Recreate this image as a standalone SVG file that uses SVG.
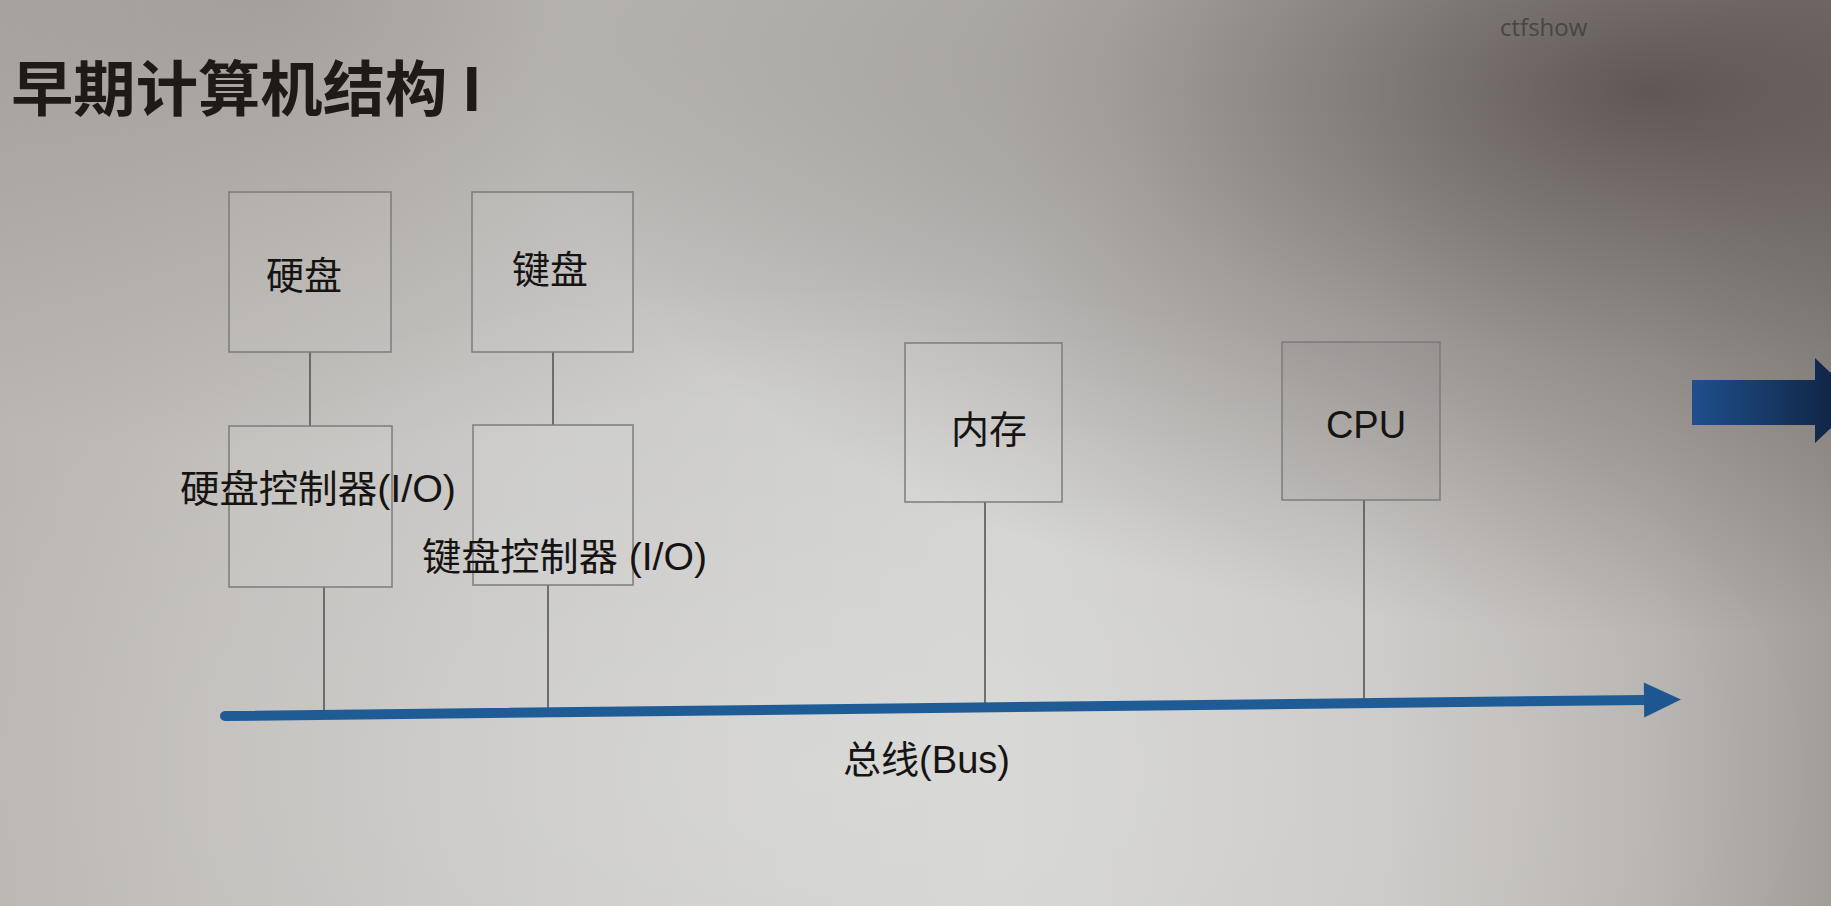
<svg xmlns="http://www.w3.org/2000/svg" width="1831" height="906" viewBox="0 0 1831 906">
<defs>
<linearGradient id="bgH" x1="0" y1="0" x2="1" y2="0">
<stop offset="0" stop-color="#bab6b2"/>
<stop offset="0.3" stop-color="#c9c8c6"/>
<stop offset="0.55" stop-color="#d1d1cf"/>
<stop offset="0.75" stop-color="#cac8c6"/>
<stop offset="0.9" stop-color="#b8b4b1"/>
<stop offset="1" stop-color="#a29e9a"/>
</linearGradient>
<radialGradient id="topDark" cx="0.9" cy="0.1" r="0.6">
<stop offset="0" stop-color="#3a302c" stop-opacity="0.7"/>
<stop offset="0.5" stop-color="#3a302c" stop-opacity="0.3"/>
<stop offset="1" stop-color="#3a302c" stop-opacity="0"/>
</radialGradient>
<radialGradient id="topLeft" cx="0.15" cy="0" r="0.5">
<stop offset="0" stop-color="#6e6660" stop-opacity="0.35"/>
<stop offset="1" stop-color="#6e6660" stop-opacity="0"/>
</radialGradient>
<radialGradient id="light" cx="0.45" cy="0.85" r="0.55">
<stop offset="0" stop-color="#ffffff" stop-opacity="0.2"/>
<stop offset="1" stop-color="#ffffff" stop-opacity="0"/>
</radialGradient>
<linearGradient id="bigArrow" x1="0" y1="0" x2="1" y2="0">
<stop offset="0" stop-color="#1f4f8c"/>
<stop offset="1" stop-color="#0e1d38"/>
</linearGradient>
<marker id="busHead" markerUnits="userSpaceOnUse" markerWidth="40" markerHeight="40" refX="0" refY="0" viewBox="0 -20 40 40" orient="auto" overflow="visible">
<path d="M0,-17.5 L37,0 L0,17.5 z" fill="#1d5690"/>
</marker>
<style>
.box{fill:#ffffff;fill-opacity:0.06;stroke:#7c7c7c;stroke-width:1.5}
.wire{stroke:#4e4e4e;stroke-width:1.5;fill:none}
.cn{font-family:"Liberation Sans","Noto Sans CJK SC",sans-serif;font-size:38px;fill:#161412}
.title{font-family:"Noto Sans CJK SC",sans-serif;font-weight:bold;font-size:60px;fill:#1e1a18}
</style>
</defs>
<rect width="1831" height="906" fill="url(#bgH)"/>
<rect width="1831" height="906" fill="url(#topDark)"/>
<rect width="1831" height="906" fill="url(#topLeft)"/>
<rect width="1831" height="906" fill="url(#light)"/>

<text x="11" y="111" class="title" textLength="471" lengthAdjust="spacingAndGlyphs">早期计算机结构 I</text>
<text x="1500" y="36" font-family="'Open Sans',sans-serif" font-size="24" fill="#4a4542">ctfshow</text>

<g id="connectors">
<line class="wire" x1="310" y1="352" x2="310" y2="426"/>
<line class="wire" x1="553" y1="352" x2="553" y2="425"/>
<line class="wire" x1="324" y1="587" x2="324" y2="715"/>
<line class="wire" x1="548" y1="585" x2="548" y2="712"/>
<line class="wire" x1="985" y1="502" x2="985" y2="707"/>
<line class="wire" x1="1364" y1="500" x2="1364" y2="703"/>
<line id="bus" x1="225" y1="716" x2="1644" y2="700" stroke="#1f5c96" stroke-width="10" stroke-linecap="round" marker-end="url(#busHead)"/>
</g>

<g id="disk">
<rect class="box" x="229" y="192" width="162" height="160"/>
<text class="cn" x="304" y="289" text-anchor="middle">硬盘</text>
</g>
<g id="keyboard">
<rect class="box" x="472" y="192" width="161" height="160"/>
<text class="cn" x="550" y="283" text-anchor="middle">键盘</text>
</g>
<g id="disk-controller">
<rect class="box" x="229" y="426" width="163" height="161"/>
<text class="cn" x="180" y="502" textLength="276" lengthAdjust="spacingAndGlyphs">硬盘控制器(I/O)</text>
</g>
<g id="keyboard-controller">
<rect class="box" x="473" y="425" width="160" height="160"/>
<text class="cn" x="422" y="570" textLength="285" lengthAdjust="spacingAndGlyphs">键盘控制器 (I/O)</text>
</g>
<g id="memory">
<rect class="box" x="905" y="343" width="157" height="159"/>
<text class="cn" x="989" y="443" text-anchor="middle" font-size="37">内存</text>
</g>
<g id="cpu">
<rect class="box" x="1282" y="342" width="158" height="158" style="fill:#000;fill-opacity:0.03"/>
<text class="cn" x="1366" y="438" text-anchor="middle" font-size="36">CPU</text>
</g>
<g id="bus-label">
<text class="cn" x="843" y="773" textLength="167" lengthAdjust="spacingAndGlyphs">总线(Bus)</text>
</g>
<g id="next-arrow">
<polygon points="1692,380 1815,380 1815,358 1860,401 1815,443 1815,425 1692,425" fill="url(#bigArrow)"/>
</g>
</svg>
